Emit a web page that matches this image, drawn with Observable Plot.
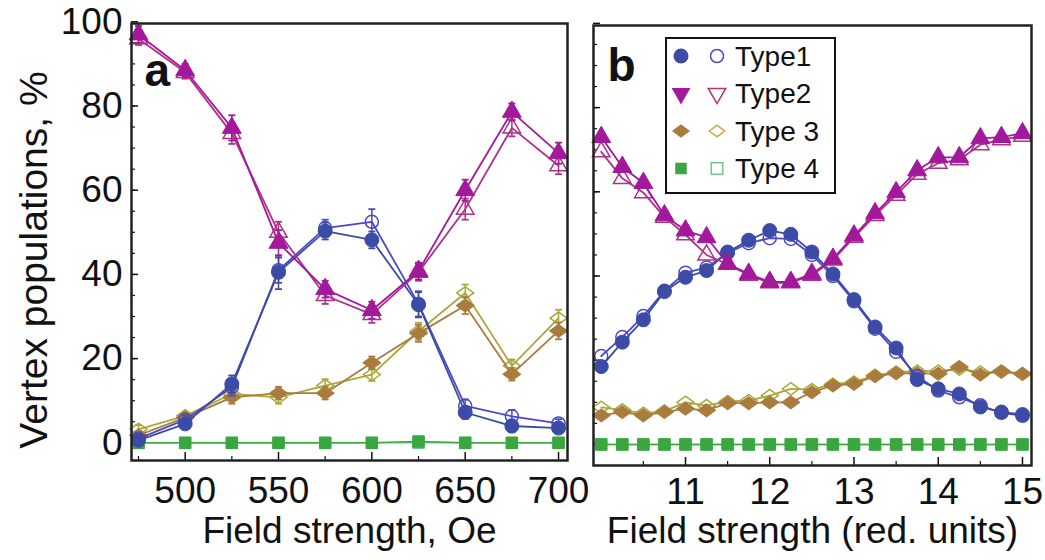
<!DOCTYPE html>
<html><head><meta charset="utf-8">
<script src="https://cdn.jsdelivr.net/npm/d3@7"></script>
<script src="https://cdn.jsdelivr.net/npm/@observablehq/plot@0.6"></script>
<style>
body{margin:0;background:#fff;}
#fig{position:relative;width:1045px;height:560px;overflow:hidden;font-family:"Liberation Sans",Arial,sans-serif;}
.panel{position:absolute;top:0;}
#legend{position:absolute;left:665px;top:37px;width:171px;height:157px;box-sizing:border-box;border:2.5px solid #111;background:#fff;}
</style></head>
<body>
<div id="fig"><div id="pa" class="panel" style="left:0px"></div><div id="pb" class="panel" style="left:580px"></div><div id="legend"></div></div>
<script>
// ---------- Panel a data (field strength, Oe) ----------
const xA = [475, 500, 525, 550, 575, 600, 625, 650, 675, 700];
const type1A      = [0.6, 4.5, 14.0, 40.5, 50.3, 48.2, 32.8, 7.2, 4.0, 3.5];
const type1AOpen  = [1.0, 5.5, 13.2, 41.0, 51.0, 52.5, 33.0, 8.8, 6.3, 4.6];
const type1AErr   = [1, 1, 2, 4, 2, 2, 3, 1.5, 1.5, 1];
const type1AOpenErr = [1, 1, 2, 3, 2, 3, 3, 1.5, 1.5, 1];
const type2A      = [97.0, 88.5, 74.8, 47.5, 36.5, 31.5, 40.8, 60.0, 78.6, 68.8];
const type2AOpen  = [96.0, 88.0, 73.5, 50.0, 35.0, 30.5, 40.5, 55.5, 74.8, 65.8];
const type2AErr   = [2, 1.5, 3, 3, 2, 2, 2, 2.5, 2, 2.5];
const type2AOpenErr = [1.5, 1.5, 2.5, 2.5, 2, 2, 2, 2.5, 2, 2];
const type3A      = [1.8, 6.0, 10.8, 11.8, 11.8, 19.0, 26.0, 32.6, 16.3, 26.6];
const type3AOpen  = [3.2, 6.4, 11.6, 10.8, 13.6, 16.2, 26.5, 35.6, 18.3, 29.6];
const type3AErr   = [1, 1, 1.5, 1.5, 1.5, 1.5, 2, 2, 1.5, 2];
const type4A      = [0, 0, 0, 0, 0, 0, 0.3, 0, 0, 0];
const type4AOpen  = [0, 0, 0, 0, 0, 0, 0, 0, 0, 0];

// ---------- Panel b data (reduced units) ----------
const xB = [10, 10.25, 10.5, 10.75, 11, 11.25, 11.5, 11.75, 12, 12.25, 12.5, 12.75, 13, 13.25, 13.5, 13.75, 14, 14.25, 14.5, 14.75, 15];
const type1B     = [18.5, 24.3, 29.6, 36.3, 39.7, 41.3, 45.7, 48.5, 50.8, 49.9, 45.7, 40.5, 34.4, 27.9, 22.9, 15.4, 13.2, 12.0, 8.9, 7.7, 7.1];
const type1BOpen = [21.0, 25.5, 30.5, 36.5, 40.8, 42.0, 45.5, 47.8, 49.0, 48.8, 45.0, 40.0, 34.0, 27.5, 22.0, 16.2, 12.8, 11.2, 9.3, 7.5, 6.8];
const type2B     = [73.0, 65.9, 62.1, 54.4, 50.8, 49.2, 42.9, 40.5, 38.6, 38.6, 40.5, 44.1, 49.6, 54.9, 59.9, 65.1, 68.2, 68.2, 72.7, 73.0, 73.9];
const type2BOpen = [69.5, 63.2, 59.8, 54.0, 49.8, 45.0, 42.8, 40.2, 38.4, 38.4, 40.2, 43.8, 49.2, 54.4, 59.2, 64.2, 66.8, 67.6, 71.2, 72.4, 73.2];
const type3B     = [6.9, 7.7, 6.9, 7.7, 8.5, 8.1, 9.8, 9.8, 10.0, 10.0, 12.4, 14.0, 14.4, 16.2, 16.9, 16.9, 16.8, 18.4, 16.6, 17.4, 16.8];
const type3BOpen = [8.8, 8.2, 7.4, 7.9, 10.0, 9.2, 10.2, 10.4, 11.6, 13.2, 13.0, 14.3, 14.8, 16.4, 17.2, 17.4, 17.4, 17.9, 17.2, 17.2, 16.7];
const type4B     = [0, 0, 0, 0, 0, 0, 0, 0, 0, 0, 0, 0, 0, 0, 0, 0, 0, 0, 0, 0, 0];

// ---------- Ticks & labels ----------
const yTicks = [0, 20, 40, 60, 80, 100];
const yMinor = [0, 5, 10, 15, 20, 25, 30, 35, 40, 45, 50, 55, 60, 65, 70, 75, 80, 85, 90, 95];
const xTicksA = [500, 550, 600, 650, 700];
const xMinorA = [475, 525, 575, 625, 675];
const xTicksB = [11, 12, 13, 14, 15];
const xMinorB = [10.5, 11.5, 12.5, 13.5, 14.5];
const seriesNames = ["Type1", "Type2", "Type 3", "Type 4"];

const FONT = '"Liberation Sans", Arial, sans-serif';
const INK = "#111";
const COL = {
  t1: "#3b4ba6", t1o: "#4b49c9",
  t2: "#a3199b", t2o: "#b0308a",
  t3: "#a97b3d", t3o: "#aaa83a",
  t4: "#3aa63f", t4o: "#6fc98f"
};
const wideDiamond = {draw(ctx, size) {const r = Math.sqrt(size / Math.PI); const w = r * 1.3, h = r * 0.95; ctx.moveTo(-w, 0); ctx.lineTo(0, -h); ctx.lineTo(w, 0); ctx.lineTo(0, h); ctx.closePath();}};
const cap = {draw(ctx, size) {const r = Math.sqrt(size / Math.PI); ctx.moveTo(-r, 0); ctx.lineTo(r, 0);}};

function rows(xs, ys, es) { return xs.map((x, i) => ({x, y: ys[i], e: es ? es[i] : 0})); }

function series(xs, ys, es, {color, symbol, r, open, lineWidth = 1.8}) {
  const d = rows(xs, ys, es);
  const m = [Plot.line(d, {x: "x", y: "y", stroke: color, strokeWidth: lineWidth})];
  if (es) {
    m.push(Plot.ruleX(d, {x: "x", y1: v => v.y - v.e, y2: v => v.y + v.e, stroke: color, strokeWidth: 1.5}));
    m.push(Plot.dot(d, {x: "x", y: v => v.y - v.e, symbol: cap, r: 3.5, stroke: color, strokeWidth: 1.8}));
    m.push(Plot.dot(d, {x: "x", y: v => v.y + v.e, symbol: cap, r: 3.5, stroke: color, strokeWidth: 1.8}));
  }
  m.push(open
    ? Plot.dot(d, {x: "x", y: "y", symbol, r, fill: "none", stroke: color, strokeWidth: 1.5})
    : Plot.dot(d, {x: "x", y: "y", symbol, r, fill: color, stroke: color, strokeWidth: 1}));
  return m;
}

function frameTicks(innerW, innerH, majX, minX) {
  return [
    Plot.ruleX(majX, {x: d => d, insetTop: innerH - 8, stroke: INK, strokeWidth: 1.5}),
    Plot.ruleX(minX, {x: d => d, insetTop: innerH - 4, stroke: INK, strokeWidth: 1.2}),
    Plot.ruleY(yMinor, {y: d => d, insetRight: innerW - 4, stroke: INK, strokeWidth: 1.2}),
    Plot.ruleY(yTicks, {y: d => d, insetRight: innerW - 7, stroke: INK, strokeWidth: 1.5})
  ];
}

// ---------- Panel a ----------
{
  const W = 580, H = 560, mL = 131, mR = 13, mT = 23, mB = 100;
  const innerW = W - mL - mR, innerH = H - mT - mB;
  const chart = Plot.plot({
    width: W, height: H, marginLeft: mL, marginRight: mR, marginTop: mT, marginBottom: mB,
    style: {fontFamily: FONT, background: "transparent", color: INK, overflow: "visible"},
    x: {domain: [471.25, 704.8]},
    y: {domain: [-4.2, 99.6]},
    marks: [
      ...frameTicks(innerW, innerH, xTicksA, xMinorA),
      Plot.axisX({ticks: xTicksA, tickSize: 0, tickPadding: 16, fontSize: 37, label: null, tickFormat: d => String(d)}),
      Plot.axisY({ticks: yTicks, tickSize: 0, tickPadding: 9, fontSize: 37, label: null, tickFormat: d => String(d)}),
      Plot.text(["Field strength, Oe"], {frameAnchor: "bottom", dy: 56, lineAnchor: "top", fontSize: 37, fill: INK}),
      Plot.text(["Vertex populations, %"], {frameAnchor: "left", rotate: -90, dx: -97, dy: 18, textAnchor: "middle", fontSize: 39, fill: INK}),
      ...series(xA, type4AOpen, null, {color: COL.t4o, symbol: "square", r: 6, open: true, lineWidth: 1.4}),
      ...series(xA, type4A, null, {color: COL.t4, symbol: "square", r: 6.5, lineWidth: 1.4}),
      ...series(xA, type3AOpen, type3AErr, {color: COL.t3o, symbol: wideDiamond, r: 6.5, open: true}),
      ...series(xA, type3A, type3AErr, {color: COL.t3, symbol: wideDiamond, r: 7}),
      ...series(xA, type1AOpen, type1AOpenErr, {color: COL.t1o, symbol: "circle", r: 6.5, open: true}),
      ...series(xA, type1A, type1AErr, {color: COL.t1, symbol: "circle", r: 7}),
      ...series(xA, type2AOpen, type2AOpenErr, {color: COL.t2o, symbol: "triangle", r: 6.5, open: true}),
      ...series(xA, type2A, type2AErr, {color: COL.t2, symbol: "triangle", r: 7}),
      Plot.frame({stroke: "#222", strokeWidth: 2.5}),
      Plot.text(["a"], {frameAnchor: "top-left", dx: 13, dy: 30, lineAnchor: "top", textAnchor: "start", fontSize: 46, fontWeight: "bold", fill: INK})
    ]
  });
  document.getElementById("pa").appendChild(chart);
}

// ---------- Panel b ----------
{
  const W = 465, H = 560, mL = 13, mR = 14, mT = 25, mB = 95;
  const innerW = W - mL - mR, innerH = H - mT - mB;
  const chart = Plot.plot({
    width: W, height: H, marginLeft: mL, marginRight: mR, marginTop: mT, marginBottom: mB,
    style: {fontFamily: FONT, background: "transparent", color: INK, overflow: "visible"},
    x: {domain: [9.908, 15.107]},
    y: {domain: [-5.0, 99.5], axis: null},
    marks: [
      ...frameTicks(innerW, innerH, xTicksB, xMinorB),
      Plot.axisX({ticks: xTicksB, tickSize: 0, tickPadding: 12, fontSize: 37, label: null, tickFormat: d => String(d)}),
      Plot.text(["Field strength (red. units)"], {frameAnchor: "bottom", dy: 51, lineAnchor: "top", fontSize: 37, fill: INK}),
      ...series(xB, type4B, null, {color: COL.t4o, symbol: "square", r: 6, open: true, lineWidth: 1.4}),
      ...series(xB, type4B, null, {color: COL.t4, symbol: "square", r: 6.5, lineWidth: 1.4}),
      ...series(xB, type3BOpen, null, {color: COL.t3o, symbol: wideDiamond, r: 6.5, open: true}),
      ...series(xB, type3B, null, {color: COL.t3, symbol: wideDiamond, r: 7}),
      ...series(xB, type1BOpen, null, {color: COL.t1o, symbol: "circle", r: 6.5, open: true}),
      ...series(xB, type1B, null, {color: COL.t1, symbol: "circle", r: 7}),
      ...series(xB, type2BOpen, null, {color: COL.t2o, symbol: "triangle", r: 6.5, open: true}),
      ...series(xB, type2B, null, {color: COL.t2, symbol: "triangle", r: 7}),
      Plot.frame({stroke: "#222", strokeWidth: 2.5}),
      Plot.text(["b"], {frameAnchor: "top-left", dx: 14, dy: 23, lineAnchor: "top", textAnchor: "start", fontSize: 46, fontWeight: "bold", fill: INK})
    ]
  });
  document.getElementById("pb").appendChild(chart);
}

// ---------- Legend ----------
{
  const legendSymbols = [
    {filled: d3.symbolCircle, open: d3.symbolCircle, c: COL.t1, co: COL.t1o, r: 7.5, ro: 6.5},
    {filled: d3.symbolTriangle, open: d3.symbolTriangle, c: COL.t2, co: "#c0306f", r: 7, ro: 6.5, flip: true},
    {filled: wideDiamond, open: wideDiamond, c: COL.t3, co: "#c8b040", r: 7, ro: 6},
    {filled: d3.symbolSquare, open: d3.symbolSquare, c: COL.t4, co: COL.t4o, r: 6.5, ro: 6.5}
  ];
  const svg = d3.select("#legend").append("svg").attr("width", 166).attr("height", 152).style("display", "block");
  seriesNames.forEach((name, i) => {
    const s = legendSymbols[i];
    const cy = 17 + i * 37.5;
    const rot = s.flip ? " rotate(180)" : "";
    svg.append("path").attr("d", d3.symbol(s.filled, Math.PI * s.r * s.r)()).attr("transform", `translate(14,${cy})${rot}`).attr("fill", s.c);
    svg.append("path").attr("d", d3.symbol(s.open, Math.PI * s.ro * s.ro)()).attr("transform", `translate(50,${cy})${rot}`).attr("fill", "none").attr("stroke", s.co).attr("stroke-width", 1.5);
    svg.append("text").attr("x", 68).attr("y", cy).attr("dy", "0.35em").attr("font-size", 28).attr("font-family", FONT).attr("fill", INK).text(name);
  });
}
</script>
</body></html>
